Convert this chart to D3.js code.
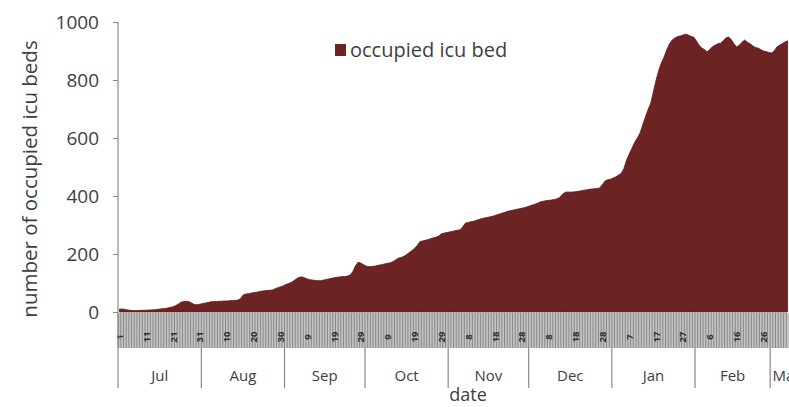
<!DOCTYPE html>
<html><head><meta charset="utf-8">
<script src="https://cdn.jsdelivr.net/npm/d3@7"></script>
<style>
html,body{margin:0;padding:0;background:#fff;overflow:hidden;}
svg{display:block;}
text{font-family:"Open Sans","Liberation Sans",sans-serif;}
</style></head>
<body><svg id="c" width="789" height="407"></svg>
<script>
// ---- data (daily occupied ICU beds, from 1 Jul) ----
const startDate = "2020-07-01";
const julValues = [10,10,9,7,6,5,5,5,6,6,6,7,7,8,9,10,11,12,14,16,18,22,28,34,36,37,35,30,26,25,27];
const augValues = [29,31,33,35,36,36,37,37,38,38,39,40,40,41,45,58,62,63,65,67,68,70,72,73,74,75,76,80,84,87,90];
const sepValues = [95,98,102,108,115,120,121,118,114,111,110,109,108,108,110,112,114,116,118,120,121,122,122,124,128,140,160,172,168,163];
const octValues = [158,156,157,158,160,162,164,166,168,170,174,180,186,188,192,198,205,212,220,230,243,245,247,250,253,256,258,262,270,272,274];
const novValues = [276,278,280,282,284,295,307,309,311,313,316,319,322,324,326,328,330,333,336,339,342,345,348,350,352,354,356,358,360,363];
const decValues = [366,369,372,376,380,382,384,385,386,388,390,395,405,412,414,413,414,415,416,418,420,421,423,424,425,426,428,440,452,456,458];
const janValues = [462,466,472,478,495,524,545,565,585,600,617,645,672,698,720,760,800,834,860,880,905,925,938,945,950,952,955,958,955,950,948];
const febValues = [935,920,910,905,897,905,915,920,925,927,935,945,948,940,925,914,920,930,938,930,925,918,912,910,905,900,898,895];
const marValues = [893,900,914,920,925,931,935];
const monthLabels = ["Jul","Aug","Sep","Oct","Nov","Dec","Jan","Feb","Mar"];
const yTicks = [0,200,400,600,800,1000];
const seriesName = "occupied icu bed";
const yTitle = "number of occupied icu beds";
const xTitle = "date";

const values = [].concat(julValues,augValues,sepValues,octValues,novValues,decValues,janValues,febValues,marValues);
const t0 = new Date(startDate+"T00:00:00");
const dates = d3.timeDay.range(t0, d3.timeDay.offset(t0, values.length));
const data = dates.map((d,i)=>({date:d, v:values[i]}));

const svg = d3.select("#c");
const axisX = 118, y0 = 312, yTop = 22;
const x = d3.scaleTime()
  .domain([t0, d3.timeDay.offset(t0, 243)])
  .range([axisX+1.5, 771.5]);
const y = d3.scaleLinear().domain([0,1000]).range([y0, yTop]);
const dayW = x(d3.timeDay.offset(t0,1)) - x(t0);
const txt = "#3e3e3e";

// band of day ticks
const bandTop = 313, bandBot = 348;
svg.append("rect").attr("x",axisX).attr("y",bandTop).attr("width",789-axisX).attr("height",bandBot-bandTop).attr("fill","#c4c4c4");
svg.append("g").selectAll("line").data(dates).join("line")
  .attr("x1",d=>x(d)-dayW/2).attr("x2",d=>x(d)-dayW/2)
  .attr("y1",bandTop).attr("y2",bandBot)
  .attr("stroke","#888").attr("stroke-width",1);
svg.append("g").selectAll("text").data(dates.filter((d,i)=>i%10===0)).join("text")
  .attr("transform",d=>`translate(${x(d)+3.5},337) rotate(-90)`)
  .attr("text-anchor","middle").attr("font-size",9.5).attr("font-weight","bold").attr("fill","#2e2e2e")
  .text(d=>d.getDate());

// area
const area = d3.area().x(d=>x(d.date)).y0(y(0)).y1(d=>y(d.v)).curve(d3.curveLinear);
svg.append("path").datum(data).attr("d",area).attr("fill","#6b2323").attr("stroke","#5c1b1b").attr("stroke-width",0.8);

// y axis
const yAxis = d3.axisLeft(y).tickValues(yTicks).tickFormat(d3.format("d")).tickSize(5).tickSizeOuter(0).tickPadding(14);
const gy = svg.append("g").attr("transform",`translate(${axisX},0)`).call(yAxis);
gy.select(".domain").remove();
gy.selectAll(".tick line").attr("stroke","#8a8a8a");
gy.selectAll(".tick text").attr("font-size",19).attr("fill",txt).attr("font-family","Open Sans, sans-serif");
svg.append("line").attr("x1",axisX).attr("x2",axisX).attr("y1",yTop).attr("y2",388).attr("stroke","#8a8a8a").attr("stroke-width",1.2);

// month boundaries and labels
const monthStarts = d3.timeMonth.range(t0, d3.timeMonth.offset(t0, monthLabels.length));
const boundaries = monthStarts.slice(1).map(m=>x(m)-dayW/2);
svg.append("g").selectAll("line").data(boundaries).join("line")
  .attr("x1",d=>d).attr("x2",d=>d).attr("y1",bandBot).attr("y2",388)
  .attr("stroke","#8a8a8a").attr("stroke-width",1.2);
svg.append("g").selectAll("text").data(monthStarts).join("text")
  .attr("x",(m,i)=>{
    if(i===monthLabels.length-1) return x(m)+1;
    const next = d3.timeMonth.offset(m,1);
    return (x(m)+x(next))/2 - dayW/2;
  })
  .attr("y",381)
  .attr("text-anchor",(m,i)=>i===monthLabels.length-1?"start":"middle")
  .attr("font-size",15).attr("fill",txt)
  .text((m,i)=>monthLabels[i]);

// titles
svg.append("text").attr("x",468).attr("y",401).attr("text-anchor","middle").attr("font-size",18).attr("fill",txt).text(xTitle);
svg.append("text").attr("transform","translate(37,179) rotate(-90)").attr("text-anchor","middle").attr("font-size",20.5).attr("fill",txt).text(yTitle);

// legend
svg.append("rect").attr("x",335).attr("y",44).attr("width",11).attr("height",12).attr("fill","#6b2323");
svg.append("text").attr("x",350).attr("y",57).attr("font-size",20).attr("fill",txt).text(seriesName);
</script></body></html>
